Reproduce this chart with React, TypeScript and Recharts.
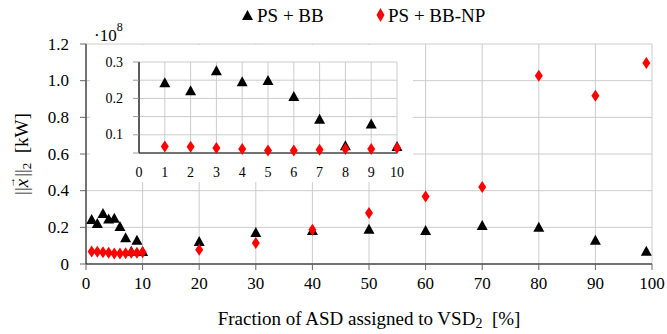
import React from 'react';
import { ScatterChart, Scatter, XAxis, YAxis, CartesianGrid, Legend } from 'recharts';

const seriesNames = ['PS + BB', 'PS + BB-NP'];
const fractions = [1, 2, 3, 4, 5, 6, 7, 8, 9, 10, 20, 30, 40, 50, 60, 70, 80, 90, 99];
const psBB = [0.243, 0.221, 0.276, 0.246, 0.249, 0.205, 0.143, 0.07, 0.13, 0.068, 0.123, 0.172, 0.183, 0.19, 0.183, 0.21, 0.2, 0.129, 0.069];
const psBBNP = [0.068, 0.067, 0.064, 0.061, 0.057, 0.057, 0.059, 0.061, 0.061, 0.064, 0.078, 0.114, 0.187, 0.278, 0.368, 0.42, 1.027, 0.918, 1.096];

const mainXTicks = [0, 10, 20, 30, 40, 50, 60, 70, 80, 90, 100];
const mainYTicks = [0, 0.2, 0.4, 0.6, 0.8, 1.0, 1.2];
const insetXTicks = [0, 1, 2, 3, 4, 5, 6, 7, 8, 9, 10];
const insetYTicks = [0.05, 0.1, 0.15, 0.2, 0.25, 0.3];
const insetYLabels = [0.1, 0.2, 0.3];
const insetMaxX = 10;

const FONT = 'Liberation Serif';
const GRID = '#cccccc';
const serif = { fontFamily: FONT };

const bbData = fractions.map((x, i) => ({ x, y: psBB[i] }));
const npData = fractions.map((x, i) => ({ x, y: psBBNP[i] }));
const bbInset = bbData.filter((d) => d.x <= insetMaxX);
const npInset = npData.filter((d) => d.x <= insetMaxX);

const Triangle = (props: any) => {
  const { cx, cy } = props;
  if (cx == null || cy == null) return null;
  return <polygon points={`${cx},${cy - 5.5} ${cx - 5.5},${cy + 4.5} ${cx + 5.5},${cy + 4.5}`} fill="#000" />;
};

const Diamond = (props: any) => {
  const { cx, cy } = props;
  if (cx == null || cy == null) return null;
  return <polygon points={`${cx},${cy - 6} ${cx + 4},${cy} ${cx},${cy + 6} ${cx - 4},${cy}`} fill="#ff0000" />;
};

const makeTick = (size: number, fmt: (v: number) => string, orient: 'x' | 'y') => (props: any) => {
  const { x, y, payload, textAnchor } = props;
  const label = fmt(payload.value);
  if (!label) return null;
  return (
    <text
      x={x}
      y={y}
      textAnchor={orient === 'x' ? 'middle' : textAnchor || 'end'}
      dominantBaseline={orient === 'x' ? 'hanging' : 'central'}
      style={serif}
      fontSize={size}
      fill="#000"
    >
      {label}
    </text>
  );
};

const fmtMain = (v: number) => (v === 0 ? '0' : v.toFixed(1));
const fmtInt = (v: number) => String(v);
const fmtInsetY = (v: number) => (insetYLabels.some((t) => Math.abs(t - v) < 1e-9) ? v.toFixed(1) : '');

const MainXTick = makeTick(17, fmtInt, 'x');
const MainYTick = makeTick(17, fmtMain, 'y');
const InsetXTick = makeTick(14, fmtInt, 'x');
const InsetYTick = makeTick(14, fmtInsetY, 'y');

const LegendContent = () => (
  <svg width={667} height={30} style={{ display: 'block' }}>
    <polygon points="247.5,10 242,20 253,20" fill="#000" />
    <text x={257} y={22} style={serif} fontSize={19} fill="#000">{seriesNames[0]}</text>
    <polygon points="380.5,8 384.5,15 380.5,22 376.5,15" fill="#ff0000" />
    <text x={388} y={22} style={serif} fontSize={19} fill="#000">{seriesNames[1]}</text>
  </svg>
);

const YLabel = (props: any) => {
  const vb = props.viewBox || { x: 0, y: 44, width: 86, height: 220 };
  const cx = 21;
  const cy = vb.y + vb.height / 2;
  return (
    <g>
      <text
        x={cx}
        y={cy}
        transform={`rotate(-90, ${cx}, ${cy})`}
        textAnchor="middle"
        dominantBaseline="central"
        style={serif}
        fontSize={19}
        fill="#000"
      >
        <tspan>||</tspan>
        <tspan fontStyle="italic">x</tspan>
        <tspan fontSize={11} dx={-9} dy={-10}>{'\u2192'}</tspan>
        <tspan dy={10}>||</tspan>
        <tspan fontSize={13} dy={5}>2</tspan>
        <tspan dy={-5}>{'\u2002[kW]'}</tspan>
      </text>
      <text x={94} y={41} style={serif} fontSize={17} fill="#000">
        <tspan>·10</tspan>
        <tspan fontSize={12} dy={-10}>8</tspan>
      </text>
    </g>
  );
};

const XLabel = (props: any) => {
  const vb = props.viewBox || { x: 86, y: 264, width: 566, height: 30 };
  const cx = vb.x + vb.width / 2;
  return (
    <text x={cx} y={325} textAnchor="middle" style={serif} fontSize={19} fill="#000">
      <tspan>Fraction of ASD assigned to VSD</tspan>
      <tspan fontSize={14} dy={3}>2</tspan>
      <tspan dy={-3}>{'\u2002[%]'}</tspan>
    </text>
  );
};

export default function App() {
  return (
    <div style={{ position: 'absolute', left: 0, top: 0, width: 667, height: 334, background: '#fff', fontFamily: FONT }}>
      <ScatterChart width={667} height={334} margin={{ top: 44, right: 15, bottom: 40, left: 0 }} style={serif}>
        <CartesianGrid stroke={GRID} strokeWidth={1} />
        <XAxis
          type="number"
          dataKey="x"
          domain={[0, 100]}
          ticks={mainXTicks}
          interval={0}
          height={30}
          axisLine={{ stroke: '#000', strokeWidth: 1 }}
          tickLine={{ stroke: '#666' }}
          tickSize={6}
          tickMargin={7}
          tick={MainXTick}
          label={{ content: XLabel }}
        />
        <YAxis
          type="number"
          dataKey="y"
          domain={[0, 1.2]}
          ticks={mainYTicks}
          interval={0}
          width={86}
          axisLine={{ stroke: '#000', strokeWidth: 1 }}
          tickLine={{ stroke: '#666' }}
          tickSize={6}
          tickMargin={11}
          tick={MainYTick}
          label={{ content: YLabel }}
        />
        <Legend
          layout="vertical"
          align="center"
          verticalAlign="middle"
          wrapperStyle={{ top: 0, left: 0, width: 667, height: 30 }}
          content={LegendContent}
        />
        <Scatter name={seriesNames[0]} data={bbData} shape={Triangle} isAnimationActive={false} />
        <Scatter name={seriesNames[1]} data={npData} shape={Diamond} isAnimationActive={false} />
      </ScatterChart>
      <div style={{ position: 'absolute', left: 90, top: 45, width: 323, height: 137, background: '#fff' }}>
        <ScatterChart width={323} height={137} margin={{ top: 17, right: 16, bottom: 0, left: 0 }} style={serif}>
          <CartesianGrid stroke={GRID} strokeWidth={1} />
          <XAxis
            type="number"
            dataKey="x"
            domain={[0, 10]}
            ticks={insetXTicks}
            interval={0}
            height={29}
            axisLine={{ stroke: '#000', strokeWidth: 1.2 }}
            tickLine={false}
            tickSize={4}
            tickMargin={10}
            tick={InsetXTick}
          />
          <YAxis
            type="number"
            dataKey="y"
            domain={[0.05, 0.3]}
            ticks={insetYTicks}
            interval={0}
            width={49}
            axisLine={{ stroke: '#000', strokeWidth: 1.2 }}
            tickLine={{ stroke: '#999' }}
            tickSize={6}
            tickMargin={10}
            tick={InsetYTick}
          />
          <Scatter data={bbInset} shape={Triangle} isAnimationActive={false} />
          <Scatter data={npInset} shape={Diamond} isAnimationActive={false} />
        </ScatterChart>
      </div>
    </div>
  );
}
